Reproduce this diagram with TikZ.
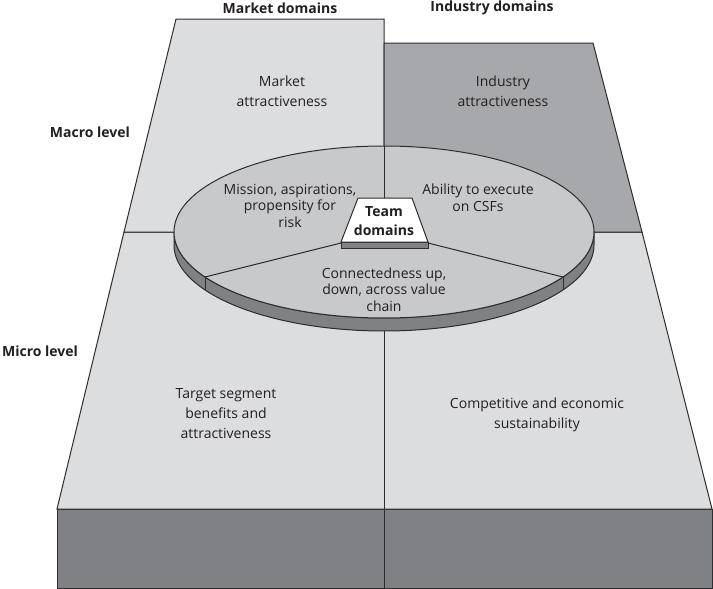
\documentclass[tikz,border=0pt]{standalone}
\usepackage{fontspec}
\setmainfont{Open Sans}
\definecolor{light}{HTML}{DCDDDF}
\definecolor{industry}{HTML}{A7A8AB}
\definecolor{disk}{HTML}{C8C9CB}
\definecolor{side}{HTML}{808184}
\definecolor{ink}{HTML}{231F20}
\definecolor{edgec}{HTML}{2E2C2D}
\tikzset{
  edge/.style={draw=edgec, line width=1pt, line join=miter},
  lbl/.style={text=ink, align=center, font=\fontsize{14}{20}\selectfont, inner sep=0pt},
  dlbl/.style={text=ink, align=center, font=\fontsize{14}{16.5}\selectfont, inner sep=0pt},
  head/.style={text=ink, font=\fontsize{14}{16}\selectfont\bfseries, inner sep=0pt},
}
\begin{document}
\begin{tikzpicture}[x=1pt,y=-1pt]
\useasboundingbox (0,0) rectangle (713,589);
% front face
\draw[edge, fill=side] (57,509) rectangle (712,588);
\draw[edge] (384,509) -- (384,588);
% lower (micro) top panel
\draw[edge, fill=light] (124,232) -- (57,509) -- (712,509) -- (642,232) -- cycle;
\draw[edge] (384,232) -- (384,509);
% upper left (market macro)
\draw[edge, fill=light] (176,19) -- (384,19) -- (384,232) -- (124,232) -- cycle;
% upper right (industry macro)
\draw[edge, fill=industry] (384,43) -- (593,43) -- (642,232) -- (384,232) -- cycle;
% disk side
\draw[edge, fill=side] (594,232) -- (594,245)
  -- plot[domain=0:180, samples=90] ({384+210*cos(\x)},{245+86*sin(\x)})
  -- (174,232)
  -- plot[domain=180:0, samples=90] ({384+210*cos(\x)},{232+86*sin(\x)}) -- cycle;
% disk top
\draw[edge, fill=disk] (384,232) ellipse [x radius=210, y radius=86];
% ticks on side
\draw[edge] (205,277) -- (205,290);
\draw[edge] (563,277) -- (563,290);
% team trapezoid
\draw[edge, fill=side] (341,242) rectangle (428,248);
\draw[edge, fill=white] (358,198) -- (412,198) -- (428,242) -- (341,242) -- cycle;
\coordinate (tl) at (341,243);
\coordinate (tr) at (428,243);
\coordinate (tt) at (384,198);
\coordinate (el) at (205,277);
\coordinate (er) at (563,277);
\coordinate (et) at (384,146);
\draw[edge] (tl) -- (el);
\draw[edge] (tr) -- (er);
\draw[edge] (tt) -- (et);
% texts
\node[head] (md) at (280,8) {Market domains};
\node[head] (id) at (492,8) {Industry domains};
\node[head] (mac) at (90,132) {Macro level};
\node[head] (mic) at (40,351) {Micro level};
\node[lbl] (ma) at (282,91) {Market\\attractiveness};
\node[lbl] (ia) at (503,91) {Industry\\attractiveness};
\node[dlbl] (mi) at (290,205.5) {Mission, aspirations,\\propensity for\\risk};
\node[dlbl] (ab) at (478,197.5) {Ability to execute\\on CSFs};
\node[head, align=center, font=\fontsize{14}{19}\selectfont\bfseries] (tm) at (384,221) {Team\\domains};
\node[dlbl] (cn) at (384,289.5) {Connectedness up,\\down, across value\\chain};
\node[lbl] (ts) at (226,414) {Target segment\\benefits and\\attractiveness};
\node[lbl] (ce) at (537,415) {Competitive and economic\\sustainability};
\end{tikzpicture}
\end{document}
